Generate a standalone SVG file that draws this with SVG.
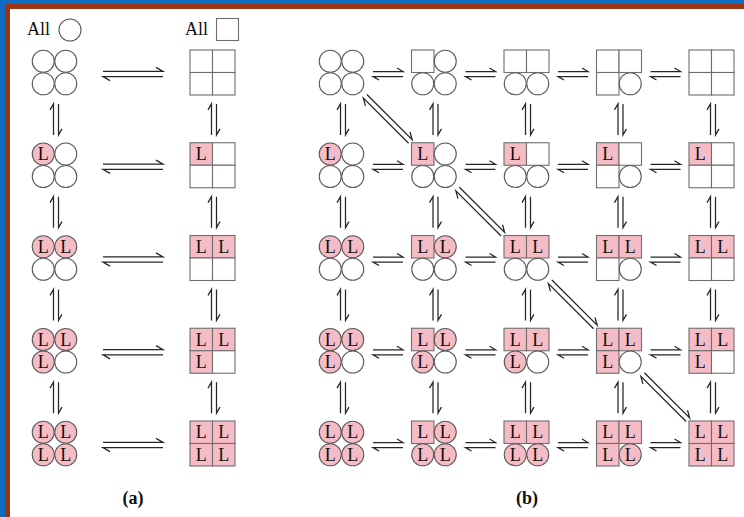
<svg xmlns="http://www.w3.org/2000/svg" xmlns:xlink="http://www.w3.org/1999/xlink" width="744" height="517" viewBox="0 0 744 517">
<style>
.e{fill:#fff;stroke:#5a5a5a;stroke-width:1.1}
.f{fill:#f6bcc5;stroke:#5a5a5a;stroke-width:1.1}
.sq{fill:#fff;stroke:#6e6e6e;stroke-width:1.1}
.sqf{fill:#f6bcc5;stroke:#6e6e6e;stroke-width:1.1}
.t{font-family:"Liberation Serif","DejaVu Serif",serif;font-size:18px;fill:#111}
.lab{font-family:"Liberation Serif","DejaVu Serif",serif;font-size:18px;font-weight:bold;fill:#111}
.ar{fill:none;stroke:#262626;stroke-width:1.25}
</style>
<defs>
<g id="c"><circle cx="11.25" cy="11.25" r="11" class="e"/></g>
<g id="cl"><circle cx="11.25" cy="11.25" r="11" class="f"/><text x="11.25" y="17.3" text-anchor="middle" class="t">L</text></g>
<g id="s"><rect x="0" y="0" width="22.5" height="22.5" class="sq"/></g>
<g id="sl"><rect x="0" y="0" width="22.5" height="22.5" class="sqf"/><text x="11.25" y="17.3" text-anchor="middle" class="t">L</text></g>
<g id="h60" class="ar"><path d="M-30,-2.6H30l-7,-4M30,2.6H-30l7,4"/></g>
<g id="h30" class="ar"><path d="M-15,-2.5H15l-6,-3.5M15,2.5H-15l6,3.5"/></g>
<g id="h31" class="ar"><path d="M-15.5,-2.5H15.5l-6,-3.5M15.5,2.5H-15.5l6,3.5"/></g>
<g id="h64" class="ar"><path d="M-32,-2.5H32l-7,-4M32,2.5H-32l7,4"/></g>
</defs>

<!-- frame -->
<rect x="0" y="0" width="744" height="517" fill="#0f6cc2"/>
<rect x="5" y="4" width="760" height="540" fill="#9c3513"/>
<rect x="10" y="9" width="760" height="540" fill="#ffffff"/>

<!-- header -->
<g id="hdr-circle">
<text x="27" y="35" class="t">All</text>
<circle cx="70" cy="30" r="11" class="e"/>
</g>
<g id="hdr-square">
<text x="185" y="35" class="t">All</text>
<rect x="216.5" y="18.5" width="22" height="22" class="sq"/>
</g>

<!-- panel (a) nodes -->
<g id="a_r0c0" transform="translate(32,50)"><use href="#c"/><use href="#c" x="22.5"/><use href="#c" y="22.5"/><use href="#c" x="22.5" y="22.5"/></g>
<g id="a_r0c1" transform="translate(190,50)"><use href="#s"/><use href="#s" x="22.5"/><use href="#s" y="22.5"/><use href="#s" x="22.5" y="22.5"/></g>
<g id="a_r1c0" transform="translate(32,142.75)"><use href="#cl"/><use href="#c" x="22.5"/><use href="#c" y="22.5"/><use href="#c" x="22.5" y="22.5"/></g>
<g id="a_r1c1" transform="translate(190,142.75)"><use href="#sl"/><use href="#s" x="22.5"/><use href="#s" y="22.5"/><use href="#s" x="22.5" y="22.5"/></g>
<g id="a_r2c0" transform="translate(32,235.5)"><use href="#cl"/><use href="#cl" x="22.5"/><use href="#c" y="22.5"/><use href="#c" x="22.5" y="22.5"/></g>
<g id="a_r2c1" transform="translate(190,235.5)"><use href="#sl"/><use href="#sl" x="22.5"/><use href="#s" y="22.5"/><use href="#s" x="22.5" y="22.5"/></g>
<g id="a_r3c0" transform="translate(32,328.25)"><use href="#cl"/><use href="#cl" x="22.5"/><use href="#cl" y="22.5"/><use href="#c" x="22.5" y="22.5"/></g>
<g id="a_r3c1" transform="translate(190,328.25)"><use href="#sl"/><use href="#sl" x="22.5"/><use href="#sl" y="22.5"/><use href="#s" x="22.5" y="22.5"/></g>
<g id="a_r4c0" transform="translate(32,421)"><use href="#cl"/><use href="#cl" x="22.5"/><use href="#cl" y="22.5"/><use href="#cl" x="22.5" y="22.5"/></g>
<g id="a_r4c1" transform="translate(190,421)"><use href="#sl"/><use href="#sl" x="22.5"/><use href="#sl" y="22.5"/><use href="#sl" x="22.5" y="22.5"/></g>

<!-- panel (b) nodes -->
<g id="b_r0c0" transform="translate(319,50)"><use href="#c"/><use href="#c" x="22.5"/><use href="#c" y="22.5"/><use href="#c" x="22.5" y="22.5"/></g>
<g id="b_r0c1" transform="translate(411.5,50)"><use href="#s"/><use href="#c" x="22.5"/><use href="#c" y="22.5"/><use href="#c" x="22.5" y="22.5"/></g>
<g id="b_r0c2" transform="translate(504,50)"><use href="#s"/><use href="#s" x="22.5"/><use href="#c" y="22.5"/><use href="#c" x="22.5" y="22.5"/></g>
<g id="b_r0c3" transform="translate(596.5,50)"><use href="#s"/><use href="#s" x="22.5"/><use href="#s" y="22.5"/><use href="#c" x="22.5" y="22.5"/></g>
<g id="b_r0c4" transform="translate(689,50)"><use href="#s"/><use href="#s" x="22.5"/><use href="#s" y="22.5"/><use href="#s" x="22.5" y="22.5"/></g>

<g id="b_r1c0" transform="translate(319,142.75)"><use href="#cl"/><use href="#c" x="22.5"/><use href="#c" y="22.5"/><use href="#c" x="22.5" y="22.5"/></g>
<g id="b_r1c1" transform="translate(411.5,142.75)"><use href="#sl"/><use href="#c" x="22.5"/><use href="#c" y="22.5"/><use href="#c" x="22.5" y="22.5"/></g>
<g id="b_r1c2" transform="translate(504,142.75)"><use href="#sl"/><use href="#s" x="22.5"/><use href="#c" y="22.5"/><use href="#c" x="22.5" y="22.5"/></g>
<g id="b_r1c3" transform="translate(596.5,142.75)"><use href="#sl"/><use href="#s" x="22.5"/><use href="#s" y="22.5"/><use href="#c" x="22.5" y="22.5"/></g>
<g id="b_r1c4" transform="translate(689,142.75)"><use href="#sl"/><use href="#s" x="22.5"/><use href="#s" y="22.5"/><use href="#s" x="22.5" y="22.5"/></g>

<g id="b_r2c0" transform="translate(319,235.5)"><use href="#cl"/><use href="#cl" x="22.5"/><use href="#c" y="22.5"/><use href="#c" x="22.5" y="22.5"/></g>
<g id="b_r2c1" transform="translate(411.5,235.5)"><use href="#sl"/><use href="#cl" x="22.5"/><use href="#c" y="22.5"/><use href="#c" x="22.5" y="22.5"/></g>
<g id="b_r2c2" transform="translate(504,235.5)"><use href="#sl"/><use href="#sl" x="22.5"/><use href="#c" y="22.5"/><use href="#c" x="22.5" y="22.5"/></g>
<g id="b_r2c3" transform="translate(596.5,235.5)"><use href="#sl"/><use href="#sl" x="22.5"/><use href="#s" y="22.5"/><use href="#c" x="22.5" y="22.5"/></g>
<g id="b_r2c4" transform="translate(689,235.5)"><use href="#sl"/><use href="#sl" x="22.5"/><use href="#s" y="22.5"/><use href="#s" x="22.5" y="22.5"/></g>

<g id="b_r3c0" transform="translate(319,328.25)"><use href="#cl"/><use href="#cl" x="22.5"/><use href="#cl" y="22.5"/><use href="#c" x="22.5" y="22.5"/></g>
<g id="b_r3c1" transform="translate(411.5,328.25)"><use href="#sl"/><use href="#cl" x="22.5"/><use href="#cl" y="22.5"/><use href="#c" x="22.5" y="22.5"/></g>
<g id="b_r3c2" transform="translate(504,328.25)"><use href="#sl"/><use href="#sl" x="22.5"/><use href="#cl" y="22.5"/><use href="#c" x="22.5" y="22.5"/></g>
<g id="b_r3c3" transform="translate(596.5,328.25)"><use href="#sl"/><use href="#sl" x="22.5"/><use href="#sl" y="22.5"/><use href="#c" x="22.5" y="22.5"/></g>
<g id="b_r3c4" transform="translate(689,328.25)"><use href="#sl"/><use href="#sl" x="22.5"/><use href="#sl" y="22.5"/><use href="#s" x="22.5" y="22.5"/></g>

<g id="b_r4c0" transform="translate(319,421)"><use href="#cl"/><use href="#cl" x="22.5"/><use href="#cl" y="22.5"/><use href="#cl" x="22.5" y="22.5"/></g>
<g id="b_r4c1" transform="translate(411.5,421)"><use href="#sl"/><use href="#cl" x="22.5"/><use href="#cl" y="22.5"/><use href="#cl" x="22.5" y="22.5"/></g>
<g id="b_r4c2" transform="translate(504,421)"><use href="#sl"/><use href="#sl" x="22.5"/><use href="#cl" y="22.5"/><use href="#cl" x="22.5" y="22.5"/></g>
<g id="b_r4c3" transform="translate(596.5,421)"><use href="#sl"/><use href="#sl" x="22.5"/><use href="#sl" y="22.5"/><use href="#cl" x="22.5" y="22.5"/></g>
<g id="b_r4c4" transform="translate(689,421)"><use href="#sl"/><use href="#sl" x="22.5"/><use href="#sl" y="22.5"/><use href="#sl" x="22.5" y="22.5"/></g>

<!-- connectors -->
<g id="connectors">
<use href="#h60" transform="translate(133,74)"/>
<use href="#h60" transform="translate(133,166.75)"/>
<use href="#h60" transform="translate(133,259.5)"/>
<use href="#h60" transform="translate(133,352.25)"/>
<use href="#h60" transform="translate(133,445)"/>
<use href="#h31" transform="translate(56,119.4) rotate(90)"/>
<use href="#h31" transform="translate(56,212.15) rotate(90)"/>
<use href="#h31" transform="translate(56,304.9) rotate(90)"/>
<use href="#h31" transform="translate(56,397.65) rotate(90)"/>
<use href="#h31" transform="translate(214,119.4) rotate(90)"/>
<use href="#h31" transform="translate(214,212.15) rotate(90)"/>
<use href="#h31" transform="translate(214,304.9) rotate(90)"/>
<use href="#h31" transform="translate(214,397.65) rotate(90)"/>
<use href="#h30" transform="translate(388,74)"/>
<use href="#h30" transform="translate(480.5,74)"/>
<use href="#h30" transform="translate(573,74)"/>
<use href="#h30" transform="translate(665.5,74)"/>
<use href="#h30" transform="translate(388,166.75)"/>
<use href="#h30" transform="translate(480.5,166.75)"/>
<use href="#h30" transform="translate(573,166.75)"/>
<use href="#h30" transform="translate(665.5,166.75)"/>
<use href="#h30" transform="translate(388,259.5)"/>
<use href="#h30" transform="translate(480.5,259.5)"/>
<use href="#h30" transform="translate(573,259.5)"/>
<use href="#h30" transform="translate(665.5,259.5)"/>
<use href="#h30" transform="translate(388,352.25)"/>
<use href="#h30" transform="translate(480.5,352.25)"/>
<use href="#h30" transform="translate(573,352.25)"/>
<use href="#h30" transform="translate(665.5,352.25)"/>
<use href="#h30" transform="translate(388,445)"/>
<use href="#h30" transform="translate(480.5,445)"/>
<use href="#h30" transform="translate(573,445)"/>
<use href="#h30" transform="translate(665.5,445)"/>
<use href="#h31" transform="translate(343,119.4) rotate(90)"/>
<use href="#h31" transform="translate(435.5,119.4) rotate(90)"/>
<use href="#h31" transform="translate(528,119.4) rotate(90)"/>
<use href="#h31" transform="translate(620.5,119.4) rotate(90)"/>
<use href="#h31" transform="translate(713,119.4) rotate(90)"/>
<use href="#h31" transform="translate(343,212.15) rotate(90)"/>
<use href="#h31" transform="translate(435.5,212.15) rotate(90)"/>
<use href="#h31" transform="translate(528,212.15) rotate(90)"/>
<use href="#h31" transform="translate(620.5,212.15) rotate(90)"/>
<use href="#h31" transform="translate(713,212.15) rotate(90)"/>
<use href="#h31" transform="translate(343,304.9) rotate(90)"/>
<use href="#h31" transform="translate(435.5,304.9) rotate(90)"/>
<use href="#h31" transform="translate(528,304.9) rotate(90)"/>
<use href="#h31" transform="translate(620.5,304.9) rotate(90)"/>
<use href="#h31" transform="translate(713,304.9) rotate(90)"/>
<use href="#h31" transform="translate(343,397.65) rotate(90)"/>
<use href="#h31" transform="translate(435.5,397.65) rotate(90)"/>
<use href="#h31" transform="translate(528,397.65) rotate(90)"/>
<use href="#h31" transform="translate(620.5,397.65) rotate(90)"/>
<use href="#h31" transform="translate(713,397.65) rotate(90)"/>
<use href="#h64" transform="translate(387.75,118.9) rotate(45)"/>
<use href="#h64" transform="translate(480.25,211.65) rotate(45)"/>
<use href="#h64" transform="translate(572.75,304.4) rotate(45)"/>
<use href="#h64" transform="translate(665.25,397.15) rotate(45)"/>
</g>

<!-- panel labels -->
<text x="133" y="504" text-anchor="middle" class="lab">(a)</text>
<text x="527" y="504" text-anchor="middle" class="lab">(b)</text>
</svg>
